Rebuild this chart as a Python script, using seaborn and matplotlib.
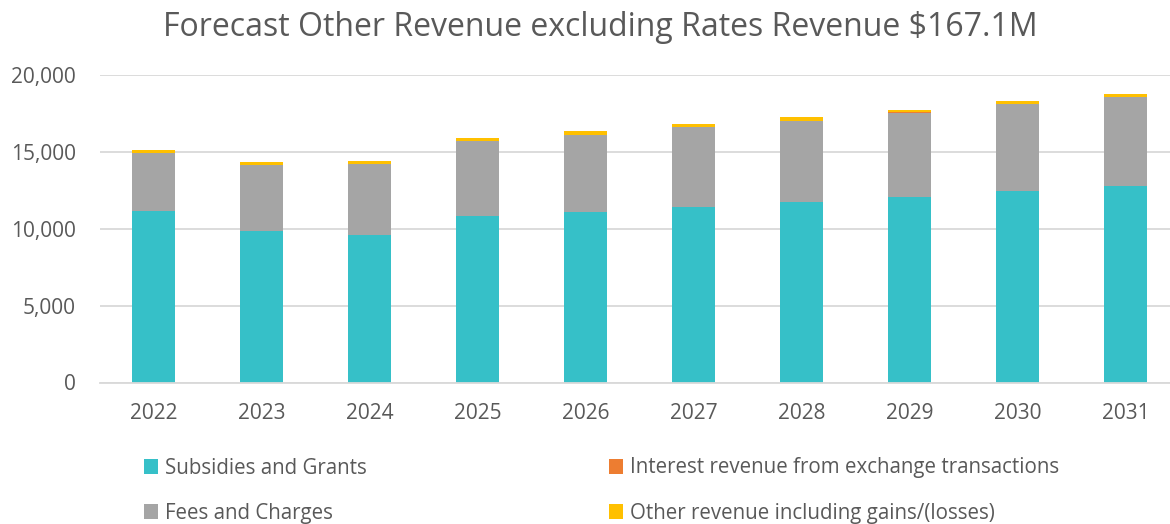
import matplotlib
matplotlib.use("Agg")
import matplotlib.pyplot as plt
import seaborn as sns
import pandas as pd
import numpy as np
from matplotlib.patches import Patch
from matplotlib.ticker import FuncFormatter

years = ["2022", "2023", "2024", "2025", "2026", "2027", "2028", "2029", "2030", "2031"]
subsidies = [11150, 9870, 9570, 10810, 11070, 11430, 11720, 12060, 12450, 12760]
fees = [3790, 4270, 4650, 4910, 5040, 5200, 5300, 5500, 5670, 5820]
interest = [15, 15, 15, 15, 15, 15, 15, 15, 15, 15]
other = [165, 180, 160, 160, 205, 160, 205, 180, 180, 180]

series_names = ["Subsidies and Grants", "Fees and Charges",
                "Interest revenue from exchange transactions",
                "Other revenue including gains/(losses)"]
colors = ["#36C0C8", "#A5A5A5", "#ED7D31", "#FFC000"]

sns.set_theme(style="white")
plt.rcParams['font.family'] = ['Open Sans', 'DejaVu Sans']

df = pd.DataFrame({"year": years, "s": subsidies, "f": fees, "i": interest, "o": other})
layers = [df["s"], df["f"], df["i"], df["o"]]
cum = np.cumsum(np.vstack(layers), axis=0)

fig = plt.figure(figsize=(11.70, 5.24), dpi=100)
ax = fig.add_axes([99.5 / 1170, (524 - 382.5) / 524, (1170 - 99.5) / 1170, (382.5 - 75) / 524])

for k in range(3, -1, -1):
    d = pd.DataFrame({"year": years, "val": cum[k]})
    sns.barplot(data=d, x="year", y="val", color=colors[k], width=0.4,
                saturation=1, ax=ax, zorder=2, linewidth=0)

ax.set_xlim(-0.5, 9.41)
ax.set_ylim(0, 20000)
ax.set_yticks([0, 5000, 10000, 15000, 20000])
ax.yaxis.set_major_formatter(FuncFormatter(lambda v, p: f"{int(v):,}"))
ax.set_xlabel("")
ax.set_ylabel("")
ax.grid(axis="y", color="#D9D9D9", linewidth=1.3, zorder=0)
ax.set_axisbelow(True)
for s in ["top", "right", "left"]:
    ax.spines[s].set_visible(False)
ax.spines["bottom"].set_color("#D9D9D9")
ax.spines["bottom"].set_linewidth(1.3)
ax.tick_params(axis="both", length=0, labelsize=15, labelcolor="#595959")
ax.tick_params(axis="y", pad=17)
ax.tick_params(axis="x", pad=15)

fig.text(0.513, 0.948, "Forecast Other Revenue excluding Rates Revenue $167.1M",
         ha="center", va="center", fontsize=23, color="#595959")

positions = [(144, 468), (144, 513), (609, 468), (609, 513)]
for (px, py), name, c in zip(positions, series_names, colors):
    fig.legend(handles=[Patch(facecolor=c, edgecolor="none")], labels=[name],
               loc="center left", bbox_to_anchor=(px / 1170, 1 - py / 524),
               frameon=False, fontsize=14.8, handlelength=0.7, handleheight=0.7,
               handletextpad=0.3, borderpad=0, borderaxespad=0,
               labelcolor="#595959")

fig.savefig("out.png", dpi=100)
